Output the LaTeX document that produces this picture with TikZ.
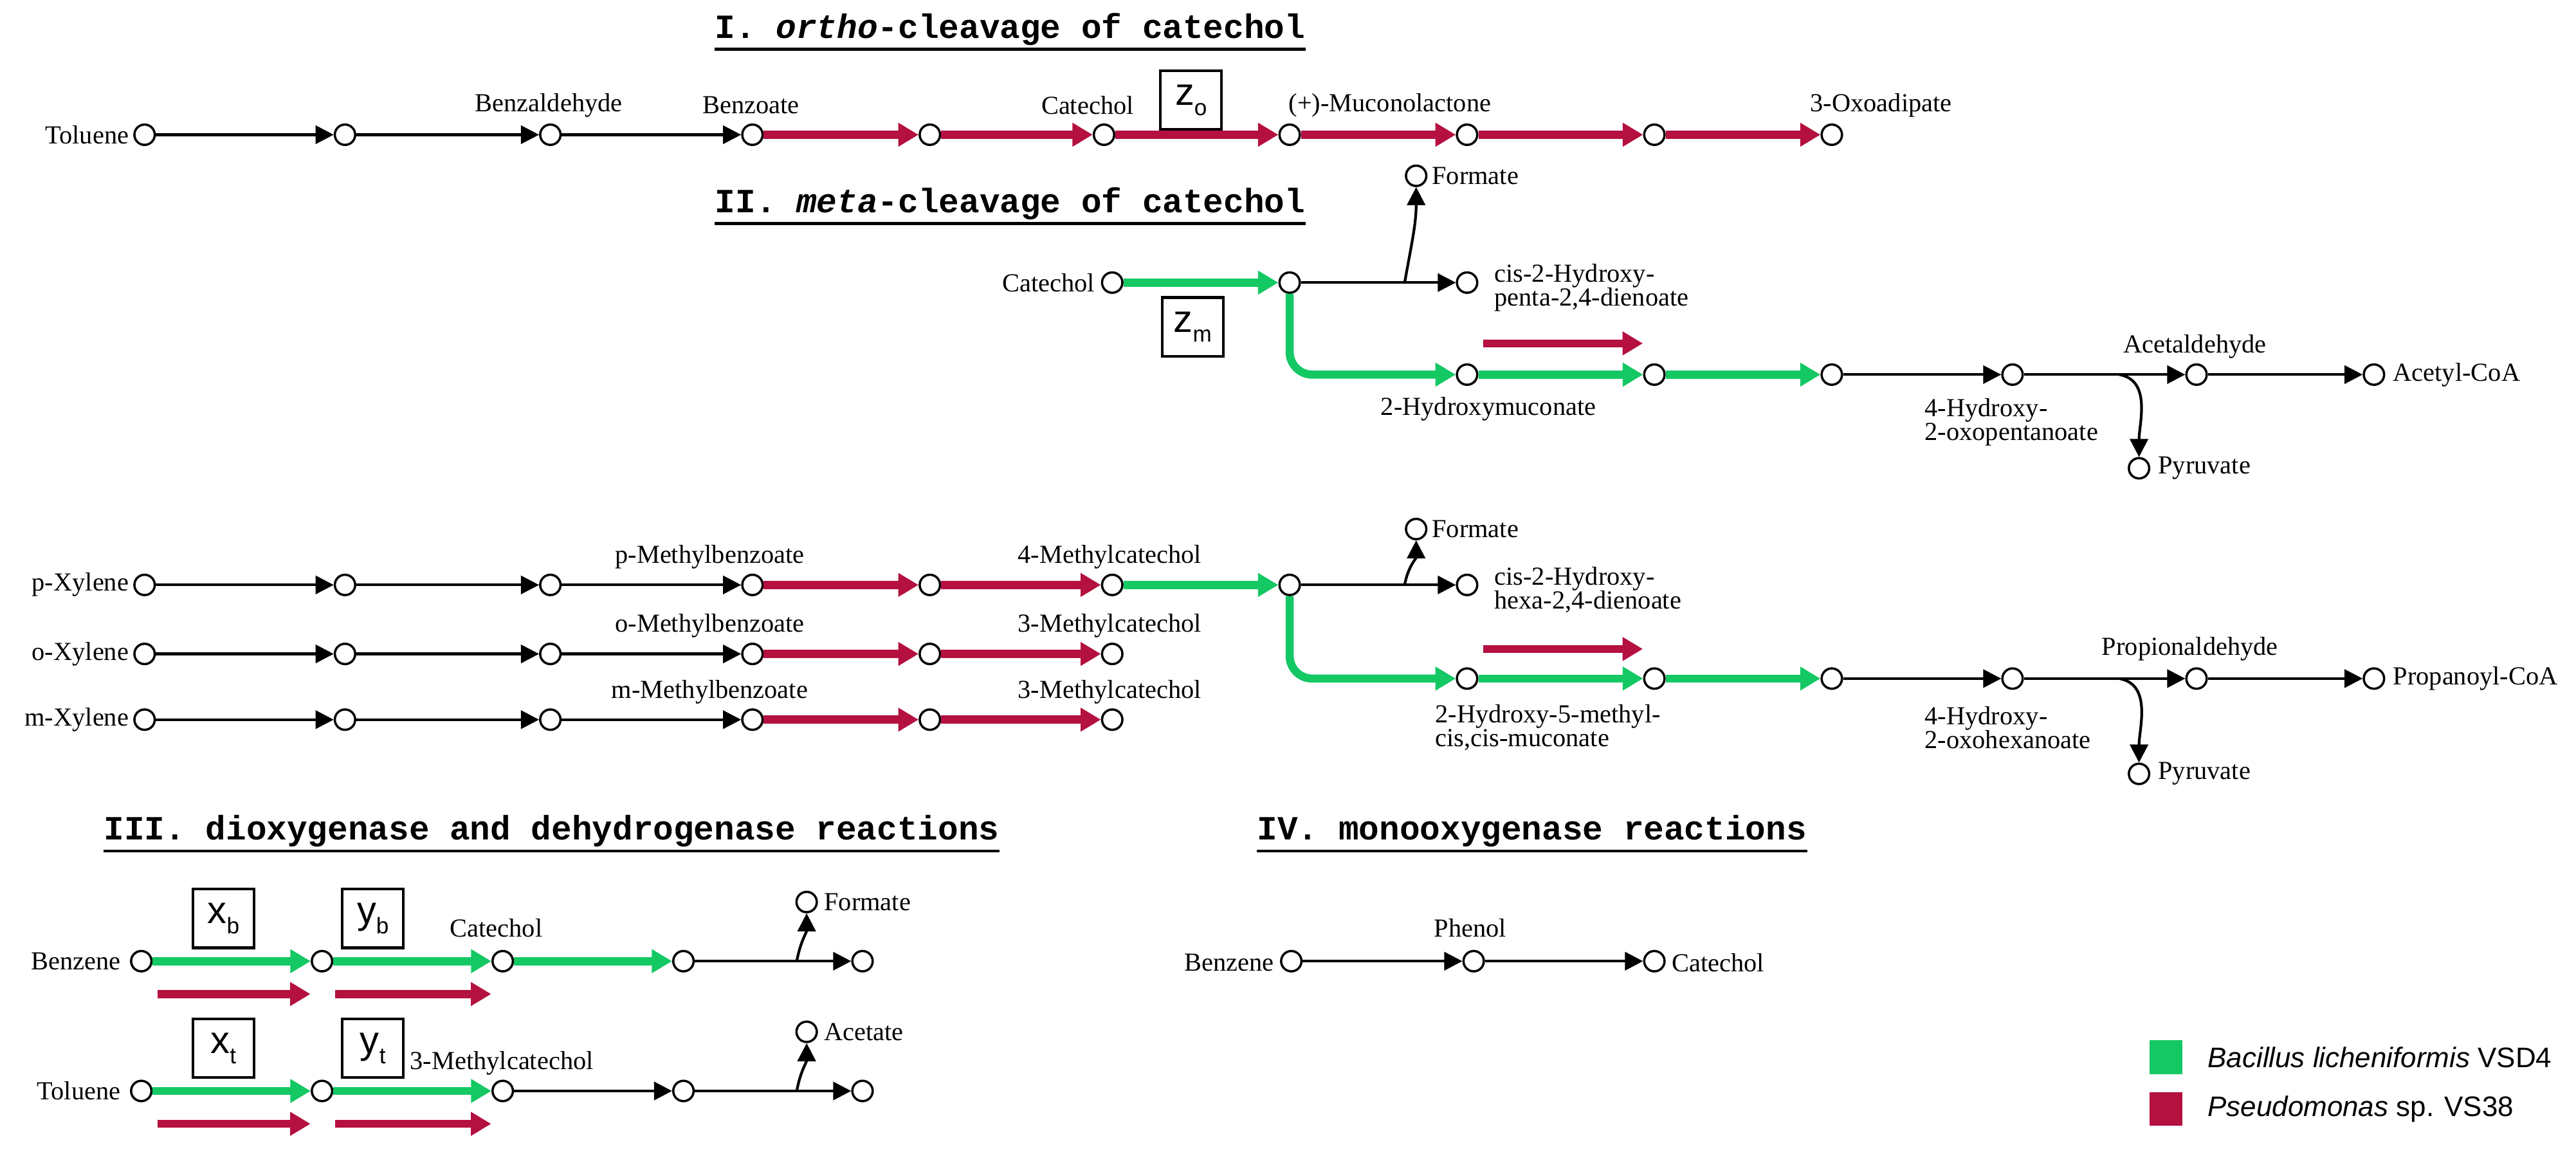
\documentclass[tikz,border=0pt]{standalone}
\usepackage{fontspec}
\setmainfont{Liberation Serif}
\newfontfamily\hmono{Liberation Mono}
\newfontfamily\hsans{Liberation Sans}
\usetikzlibrary{arrows.meta,calc}
\definecolor{bgreen}{RGB}{20,200,100}
\definecolor{pred}{RGB}{180,16,64}
\newcommand{\bsub}[2]{#1\raisebox{-0.5ex}{\fontsize{10}{10}\selectfont #2}}
\begin{document}
\begin{tikzpicture}[x=0.02554cm,y=-0.02554cm,
 m/.style={circle,draw,line width=1pt,minimum size=9pt,inner sep=0pt,fill=white},
 lbl/.style={font=\fontsize{11.5}{11}\selectfont,inner sep=1pt},
 lbl2/.style={font=\fontsize{11.5}{10.5}\selectfont,inner sep=1pt,align=left},
 hd/.style={font=\hmono\bfseries\fontsize{15}{15}\selectfont,anchor=west,inner sep=0pt},
 ul/.style={line width=1.3pt},
 blk/.style={draw,line width=1.2pt,-{Triangle[length=8pt,width=8pt]}},
 grn/.style={draw=bgreen,line width=3.6pt,-{Triangle[length=9pt,width=10pt]}},
 rd/.style={draw=pred,line width=3.6pt,-{Triangle[length=9pt,width=10pt]}},
 bx/.style={draw,line width=1.2pt,minimum width=27pt,minimum height=26pt,inner sep=1pt,font=\hsans\fontsize{17}{17}\selectfont}]
\useasboundingbox (0,0) rectangle (1568,702);
% headings
\node[hd] (h1) at (435,18) {I. \textit{ortho}-cleavage of catechol};
\draw[ul] ($(h1.west)+(0,12)$) -- ($(h1.east)+(0,12)$);
\node[hd] (h2) at (435,124) {II. \textit{meta}-cleavage of catechol};
\draw[ul] ($(h2.west)+(0,12)$) -- ($(h2.east)+(0,12)$);
\node[hd] (h3) at (63,506) {III. dioxygenase and dehydrogenase reactions};
\draw[ul] ($(h3.west)+(0,12)$) -- ($(h3.east)+(0,12)$);
\node[hd] (h4) at (765,506) {IV. monooxygenase reactions};
\draw[ul] ($(h4.west)+(0,12)$) -- ($(h4.east)+(0,12)$);
% Row I
\foreach \n/\x in {t1/88,a1/210,a2/335,a3/458,a4/566,a5/672,a6/785,a7/893,a8/1007,a9/1115}{\node[m] (\n) at (\x,82) {};}
\node[lbl,anchor=east] (lt1) at (80,82) {Toluene};
\node[lbl] (la2) at (334,64) {Benzaldehyde};
\node[lbl] (la3) at (457,64) {Benzoate};
\node[lbl] (la5) at (662,64) {Catechol};
\node[lbl] (la7) at (846,64) {(+)-Muconolactone};
\node[lbl] (la9) at (1145,64) {3-Oxoadipate};
\node[bx] (zo) at (725,61) {\bsub{z}{o}};
\draw[blk] (t1)--(a1); \draw[blk] (a1)--(a2); \draw[blk] (a2)--(a3);
\draw[rd] (a3)--(a4); \draw[rd] (a4)--(a5); \draw[rd] (a5)--(a6); \draw[rd] (a6)--(a7); \draw[rd] (a7)--(a8); \draw[rd] (a8)--(a9);
% Row II
\node[m] (c0) at (677,172) {}; \node[lbl,anchor=east] (lc0) at (668,172) {Catechol};
\node[m] (c1) at (785,172) {};
\node[m] (c2) at (893,172) {};
\node[lbl2,anchor=west] (lc2) at (908,175) {cis-2-Hydroxy-\\penta-2,4-dienoate};
\node[m] (cf) at (862,107) {}; \node[lbl,anchor=west] (lcf) at (870,107) {Formate};
\node[m] (c3) at (893,228) {}; \node[m] (c4) at (1007,228) {}; \node[m] (c5) at (1115,228) {};
\node[m] (c6) at (1225,228) {}; \node[m] (c7) at (1337,228) {}; \node[m] (c8) at (1445,228) {};
\node[m] (cp) at (1302,285) {}; \node[lbl,anchor=west] (lcp) at (1312,285) {Pyruvate};
\node[lbl,anchor=west] (lc8) at (1455,228) {Acetyl-CoA};
\node[lbl] (lc7) at (1336,211) {Acetaldehyde};
\node[lbl] (lc3) at (906,249) {2-Hydroxymuconate};
\node[lbl2,anchor=west] (lc6) at (1170,257) {4-Hydroxy-\\2-oxopentanoate};
\node[bx] (zm) at (726,199) {\bsub{z}{m}};
\draw[grn] (c0)--(c1);
\draw[blk] (c1)--(c2);
\coordinate (bf) at (855,172);
\draw[blk] (bf) to[out=80,in=-90] (cf);
\draw[grn,rounded corners=10pt] (c1) |- (c3);
\draw[grn] (c3)--(c4); \draw[grn] (c4)--(c5);
\coordinate (r1s) at (903,209); \coordinate (r1e) at (1000,209);
\draw[rd] (r1s)--(r1e);
\draw[blk] (c5)--(c6); \draw[blk] (c6)--(c7); \draw[blk] (c7)--(c8);
\coordinate (bp) at (1290,228);
\draw[blk] (bp) to[out=-10,in=90] (cp);
% Xylenes
\foreach \r/\y/\nm/\mb/\mc in {p/356/p-Xylene/p-Methylbenzoate/4-Methylcatechol,o/398/o-Xylene/o-Methylbenzoate/3-Methylcatechol,q/438/m-Xylene/m-Methylbenzoate/3-Methylcatechol}{
 \foreach \n/\x in {0/88,1/210,2/335,3/458,4/566,5/677}{\node[m] (\r\n) at (\x,\y) {};}
 \node[lbl,anchor=east] (l\r0) at (80,\y) {\nm};
 \node[lbl] (l\r3) at (432,\y-17) {\mb};
 \node[lbl,anchor=west] (l\r5) at (618,\y-17) {\mc};
 \draw[blk] (\r0)--(\r1); \draw[blk] (\r1)--(\r2); \draw[blk] (\r2)--(\r3);
 \draw[rd] (\r3)--(\r4); \draw[rd] (\r4)--(\r5);
}
\node[m] (d1) at (785,356) {}; \node[m] (d2) at (893,356) {};
\node[lbl2,anchor=west] (ld2) at (908,359) {cis-2-Hydroxy-\\hexa-2,4-dienoate};
\node[m] (df) at (862,322) {}; \node[lbl,anchor=west] (ldf) at (870,322) {Formate};
\node[m] (d3) at (893,413) {}; \node[m] (d4) at (1007,413) {}; \node[m] (d5) at (1115,413) {};
\node[m] (d6) at (1225,413) {}; \node[m] (d7) at (1337,413) {}; \node[m] (d8) at (1445,413) {};
\node[m] (dp) at (1302,471) {}; \node[lbl,anchor=west] (ldp) at (1312,471) {Pyruvate};
\node[lbl,anchor=west] (ld8) at (1455,413) {Propanoyl-CoA};
\node[lbl] (ld7) at (1333,395) {Propionaldehyde};
\node[lbl2,anchor=west] (ld3) at (872,443) {2-Hydroxy-5-methyl-\\cis,cis-muconate};
\node[lbl2,anchor=west] (ld6) at (1170,443) {4-Hydroxy-\\2-oxohexanoate};
\draw[grn] (p5)--(d1);
\draw[blk] (d1)--(d2);
\coordinate (bf2) at (855,356);
\draw[blk] (bf2) to[out=80,in=-90] (df);
\draw[grn,rounded corners=10pt] (d1) |- (d3);
\draw[grn] (d3)--(d4); \draw[grn] (d4)--(d5);
\coordinate (r2s) at (903,395); \coordinate (r2e) at (1000,395);
\draw[rd] (r2s)--(r2e);
\draw[blk] (d5)--(d6); \draw[blk] (d6)--(d7); \draw[blk] (d7)--(d8);
\coordinate (bp2) at (1290,413);
\draw[blk] (bp2) to[out=-10,in=90] (dp);
% Section III
\foreach \r/\y in {b/585,t/664}{
 \foreach \n/\x in {0/86,1/196,2/306,3/416,4/525}{\node[m] (e\r\n) at (\x,\y) {};}
 \node[m] (e\r f) at (491,\y-36) {};
 \coordinate (e\r c) at (485,\y);
 \draw[blk] (e\r c) to[out=80,in=-90] (e\r f);
 \draw[grn] (e\r0)--(e\r1); \draw[grn] (e\r1)--(e\r2);
 \draw[blk] (e\r3)--(e\r4);
 \coordinate (e\r a) at (96,\y+20); \coordinate (e\r b) at (189,\y+20);
 \coordinate (e\r d) at (204,\y+20); \coordinate (e\r e) at (299,\y+20);
 \draw[rd] (e\r a)--(e\r b); \draw[rd] (e\r d)--(e\r e);
}
\draw[grn] (eb2)--(eb3); \draw[blk] (et2)--(et3);
\node[lbl,anchor=east] (leb) at (75,585) {Benzene};
\node[lbl,anchor=east] (let) at (75,664) {Toluene};
\node[lbl,anchor=west] (lebf) at (500,549) {Formate};
\node[lbl,anchor=west] (letf) at (500,628) {Acetate};
\node[lbl] (leb2) at (302,565) {Catechol};
\node[lbl,anchor=west] (let2) at (248,647) {3-Methylcatechol};
\node[bx] (xb) at (136,559) {\bsub{x}{b}};
\node[bx] (yb) at (227,559) {\bsub{y}{b}};
\node[bx] (xt) at (136,638) {\bsub{x}{t}};
\node[bx] (yt) at (227,638) {\bsub{y}{t}};
% Section IV
\node[m] (f0) at (786,585) {}; \node[m] (f1) at (897,585) {}; \node[m] (f2) at (1007,585) {};
\node[lbl,anchor=east] (lf0) at (777,586) {Benzene};
\node[lbl] (lf1) at (895,565) {Phenol};
\node[lbl,anchor=west] (lf2) at (1016,586) {Catechol};
\draw[blk] (f0)--(f1); \draw[blk] (f1)--(f2);
% legend
\node[fill=bgreen,minimum width=14.5pt,minimum height=15pt,inner sep=0pt] (lg1) at (1318.5,643.5) {};
\node[fill=pred,minimum width=14.5pt,minimum height=15pt,inner sep=0pt] (lg2) at (1318.5,675) {};
\node[anchor=west,font=\hsans\fontsize{12.5}{13}\selectfont] (tg1) at (1339,643.5) {\textit{Bacillus licheniformis} VSD4};
\node[anchor=west,font=\hsans\fontsize{12.5}{13}\selectfont] (tg2) at (1339,675) {\textit{Pseudomonas} sp. VS38};
\end{tikzpicture}
\end{document}
